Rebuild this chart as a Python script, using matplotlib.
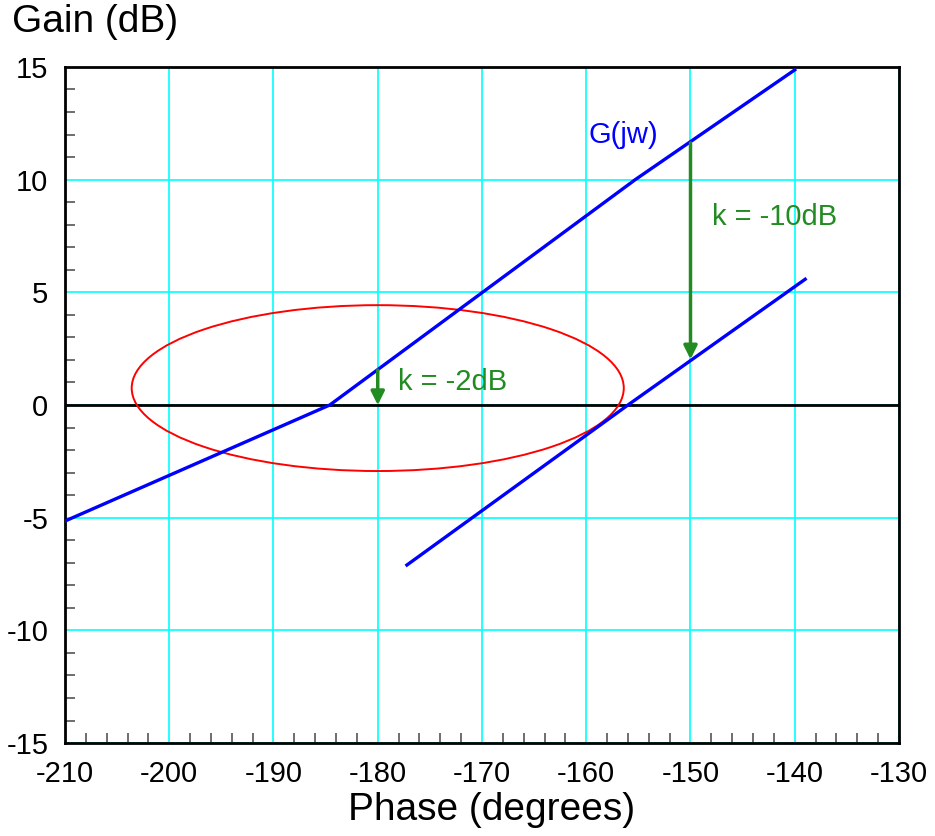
import matplotlib
matplotlib.use("Agg")
import matplotlib.pyplot as plt
import numpy as np
from matplotlib.patches import Ellipse, FancyArrowPatch
from matplotlib.ticker import MultipleLocator

plt.rcParams["font.family"] = ["Liberation Sans", "DejaVu Sans"]
plt.rcParams["axes.unicode_minus"] = False

# open-loop curve G(jw) on the Nichols chart
g_phase = [-210.0, -184.6, -155.3, -140.0]
g_gain = [-5.15, 0.0, 10.0, 14.87]

# same curve after gain k = -10 dB
k10_phase = [-177.2, -156.0, -139.0]
k10_gain = [-7.1, 0.0, 5.58]

# M-circle style contour
ellipse_center = (-180.0, 0.75)
ellipse_width = 47.2
ellipse_height = 7.36

# gain shift arrows: (phase, start gain, end gain)
arrow_small = (-180.0, 1.55, 0.0)
arrow_large = (-150.0, 11.63, 2.03)

green = "#228B22"

fig = plt.figure(figsize=(9.35, 8.36), dpi=100)
ax = fig.add_axes([0.0695, 0.1112, 0.892, 0.8087])

ax.set_xlim(-210, -130)
ax.set_ylim(-15, 15)
ax.set_xticks(np.arange(-210, -129, 10))
ax.set_yticks(np.arange(-15, 16, 5))
ax.xaxis.set_minor_locator(MultipleLocator(2))
ax.yaxis.set_minor_locator(MultipleLocator(1))
ax.tick_params(which="major", length=0, labelsize=21, pad=12)
ax.tick_params(which="minor", direction="in", length=7, width=1.2, color="#555555",
               top=False, right=False)
ax.grid(True, which="major", color="cyan", linewidth=1.2)
for spine in ax.spines.values():
    spine.set_linewidth(2)
    spine.set_color("black")

ax.axhline(0, color="black", linewidth=2, zorder=2)

ax.add_patch(Ellipse(ellipse_center, ellipse_width, ellipse_height, fill=False,
                     edgecolor="red", linewidth=1.4, zorder=3))

ax.plot(g_phase, g_gain, color="blue", linewidth=2.4, zorder=4)
ax.plot(k10_phase, k10_gain, color="blue", linewidth=2.4, zorder=4)

for x, y0, y1 in (arrow_small, arrow_large):
    ax.add_patch(FancyArrowPatch((x, y0), (x, y1), arrowstyle="-|>", mutation_scale=20,
                                 color=green, linewidth=2.5, shrinkA=0, shrinkB=0, zorder=5))

ax.text(-178.1, 1.0, "k = -2dB", color=green, fontsize=21, va="center", ha="left")
ax.text(-147.9, 8.35, "k = -10dB", color=green, fontsize=21, va="center", ha="left")
ax.text(-159.8, 12.0, "G(jw)", color="blue", fontsize=21, va="center", ha="left")

fig.text(0.013, 0.995, "Gain (dB)", fontsize=28, va="top", ha="left")
fig.text(0.526, 0.031, "Phase (degrees)", fontsize=28, va="center", ha="center")

fig.savefig("out.png", dpi=100)
